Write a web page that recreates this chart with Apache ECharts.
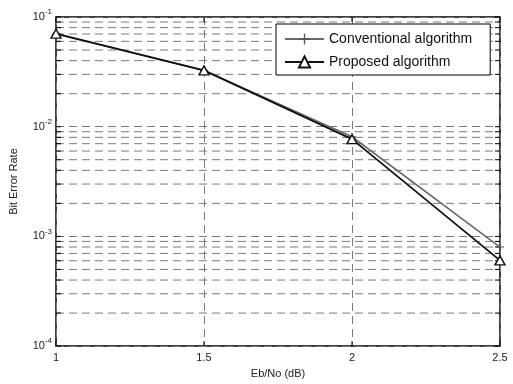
<!DOCTYPE html>
<html>
<head>
<meta charset="utf-8">
<script src="https://cdn.jsdelivr.net/npm/echarts@6/dist/echarts.min.js"></script>
<style>
  html, body { margin: 0; padding: 0; background: #fff; }
  #chart { width: 513px; height: 384px; }
</style>
</head>
<body>
<div id="chart"></div>
<script>
// Eb/No points (dB)
const snr = [1, 1.5, 2, 2.5];
// bit error rates
const conventional = [0.0700, 0.0325, 0.0081, 0.00080];
const proposed = [0.0705, 0.0326, 0.0077, 0.000605];

const xTicks = [1, 1.5, 2, 2.5];
const decades = [1e-4, 1e-3, 1e-2, 1e-1];
const mantissas = [2, 3, 4, 5, 6, 7, 8, 9];

// minor log grid values 2..9 in each decade
const minorVals = [];
decades.slice(0, 3).forEach(d => mantissas.forEach(m => minorVals.push(+(m * d).toPrecision(2))));
const allYTicks = decades.concat(minorVals);

const fontFam = '"Liberation Sans", Arial, sans-serif';
const gridDash = { color: '#7a7a7a', width: 1, type: [8, 5] };

const chart = echarts.init(document.getElementById('chart'), null, { renderer: 'canvas' });

const option = {
  animation: false,
  backgroundColor: '#fff',
  textStyle: { fontFamily: fontFam },
  grid: {
    left: 54, right: 13, top: 17, bottom: 32,
    show: true, borderColor: '#000', borderWidth: 1.5, backgroundColor: 'transparent'
  },
  legend: {
    data: ['Conventional algorithm', 'Proposed algorithm'],
    orient: 'vertical',
    left: 276, top: 24,
    z: 20,
    padding: [8, 18, 6, 8],
    itemWidth: 39, itemHeight: 14, itemGap: 9,
    backgroundColor: '#fff',
    borderColor: '#000', borderWidth: 1, borderRadius: 0,
    textStyle: { fontSize: 14, color: '#111', fontFamily: fontFam },
    selectedMode: false
  },
  xAxis: {
    type: 'value',
    min: 1, max: 2.5, interval: 0.5,
    name: 'Eb/No (dB)',
    nameLocation: 'middle', nameGap: 21,
    nameTextStyle: { fontSize: 11, color: '#222' },
    axisLine: { show: false },
    axisTick: { show: false },
    axisLabel: { fontSize: 11, color: '#222', margin: 6, formatter: v => String(v) },
    splitLine: { show: true, lineStyle: gridDash }
  },
  yAxis: {
    type: 'log', logBase: 10,
    min: 1e-4, max: 1e-1,
    name: 'Bit Error Rate',
    nameLocation: 'middle', nameGap: 37,
    nameTextStyle: { fontSize: 11, color: '#222' },
    axisLine: { show: false },
    axisTick: { show: false },
    axisLabel: {
      margin: 4,
      formatter: v => '{b|10}{s|' + Math.round(Math.log10(v)) + '}',
      rich: {
        b: { fontSize: 11, color: '#222', fontFamily: fontFam },
        s: { fontSize: 8, color: '#222', fontFamily: fontFam, padding: [0, 0, 10, 0] }
      }
    },
    splitLine: { show: true, lineStyle: gridDash }
  },
  series: [
    {
      // log grid: dashed minor lines plus inward ticks on both sides
      type: 'custom',
      z: 1,
      silent: true,
      clip: false,
      data: allYTicks.map(v => [1.5, v]),
      encode: { x: 0, y: 1 },
      renderItem: (params, api) => {
        const v = api.value(1);
        const p = api.coord([xTicks[0], v]);
        const q = api.coord([xTicks[xTicks.length - 1], v]);
        const st = { stroke: '#000', lineWidth: 1 };
        const kids = [
          { type: 'line', shape: { x1: p[0], y1: p[1], x2: p[0] + 5, y2: p[1] }, style: st },
          { type: 'line', shape: { x1: q[0] - 5, y1: q[1], x2: q[0], y2: q[1] }, style: st }
        ];
        if (minorVals.indexOf(v) >= 0) {
          kids.unshift({
            type: 'line',
            shape: { x1: p[0], y1: p[1], x2: q[0], y2: q[1] },
            style: { stroke: gridDash.color, lineWidth: 1, lineDash: gridDash.type }
          });
        }
        return { type: 'group', children: kids };
      }
    },
    {
      // x ticks on bottom and top
      type: 'custom',
      z: 1,
      silent: true,
      clip: false,
      data: xTicks.map(v => [v, 1e-2]),
      encode: { x: 0, y: 1 },
      renderItem: (params, api) => {
        const x = api.value(0);
        const p = api.coord([x, decades[0]]);
        const q = api.coord([x, decades[decades.length - 1]]);
        const st = { stroke: '#000', lineWidth: 1 };
        return {
          type: 'group',
          children: [
            { type: 'line', shape: { x1: p[0], y1: p[1], x2: p[0], y2: p[1] - 5 }, style: st },
            { type: 'line', shape: { x1: q[0], y1: q[1], x2: q[0], y2: q[1] + 5 }, style: st }
          ]
        };
      }
    },
    {
      name: 'Conventional algorithm',
      type: 'line',
      z: 3,
      data: snr.map((x, i) => [x, conventional[i]]),
      symbol: 'path://M0,4.4H10V5.6H0Z M4.4,0H5.6V10H4.4Z',
      symbolSize: 8,
      showAllSymbol: true,
      itemStyle: { color: '#555' },
      lineStyle: { color: '#6a6a6a', width: 1.6 }
    },
    {
      name: 'Proposed algorithm',
      type: 'line',
      z: 4,
      data: snr.map((x, i) => [x, proposed[i]]),
      symbol: 'triangle',
      symbolSize: [10, 9],
      showAllSymbol: true,
      itemStyle: { color: '#fff', borderColor: '#111', borderWidth: 1.4 },
      lineStyle: { color: '#111', width: 1.8 }
    }
  ]
};

chart.setOption(option);
</script>
</body>
</html>
